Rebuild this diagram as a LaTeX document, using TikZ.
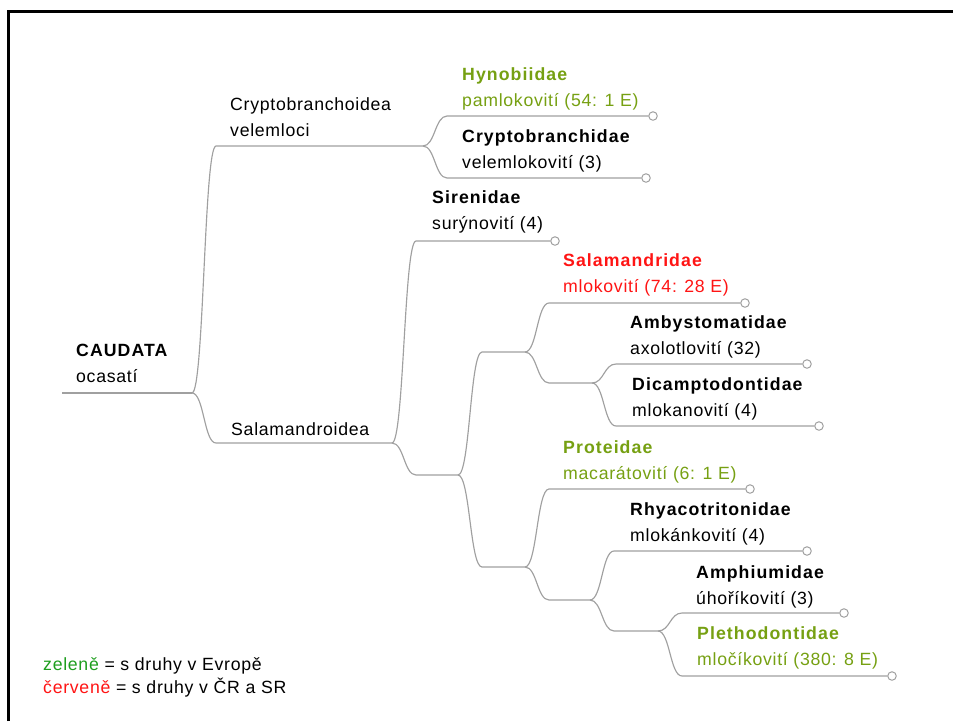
\documentclass[tikz,border=0pt]{standalone}
\usepackage{fontspec}
\setmainfont{Liberation Sans}[LetterSpace=4,BoldFeatures={LetterSpace=6}]
\definecolor{linegray}{RGB}{160,160,160}
\definecolor{leafgreen}{RGB}{118,160,18}
\definecolor{keygreen}{RGB}{30,158,30}
\definecolor{keyred}{RGB}{255,20,20}
\begin{document}
\begin{tikzpicture}[x=1pt,y=-1pt,font=\fontsize{17.7}{26}\selectfont,
  branch/.style={draw=linegray,line width=1.15pt},
  tip/.style={circle,draw=linegray,fill=white,line width=1pt,inner sep=0pt,minimum size=8.5pt},
  lbl/.style={anchor=north west,align=left,inner sep=0pt}]
\useasboundingbox(0,0)rectangle(953,721);
\draw[line width=3.5pt](8.5,721)--(8.5,11.5)--(953,11.5);
% forks
\coordinate(r0)at(62,393);\coordinate(f0)at(192,393);
\coordinate(f1)at(423,146);\coordinate(f2)at(392,443);
\coordinate(f3)at(458,475);\coordinate(f4)at(525,352);
\coordinate(f5)at(592,383);\coordinate(f6)at(525,567);
\coordinate(f7)at(590,600);\coordinate(f8)at(658,631);
% bends
\coordinate(k1)at(216,146);\coordinate(k2)at(216,443);
\coordinate(k3)at(416,475);\coordinate(k4)at(482,352);
\coordinate(k5)at(549,383);\coordinate(k6)at(482,567);
\coordinate(k7)at(549,600);\coordinate(k8)at(614,631);
\coordinate(k-hyno)at(447,116);\coordinate(k-cryptob)at(447,178);
\coordinate(k-siren)at(416,241);\coordinate(k-salam)at(549,303);
\coordinate(k-amby)at(616,364);\coordinate(k-dicamp)at(616,426);
\coordinate(k-prot)at(549,489);\coordinate(k-rhya)at(614,551);
\coordinate(k-amph)at(682,613);\coordinate(k-pleth)at(682,676);
% leaf ends
\node[tip](c-hyno)at(653,116){};\node[tip](c-cryptob)at(646,178){};
\node[tip](c-siren)at(555,241){};\node[tip](c-salam)at(745,303){};
\node[tip](c-amby)at(807,364){};\node[tip](c-dicamp)at(819,426){};
\node[tip](c-prot)at(750,489){};\node[tip](c-rhya)at(807,551){};
\node[tip](c-amph)at(844,613){};\node[tip](c-pleth)at(892,676){};
\draw[branch](r0)--(f0);
\foreach \a/\b/\c in {f0/k1/f1,f0/k2/f2,f1/k-hyno/c-hyno,f1/k-cryptob/c-cryptob,
  f2/k-siren/c-siren,f2/k3/f3,f3/k4/f4,f3/k6/f6,f4/k-salam/c-salam,f4/k5/f5,
  f5/k-amby/c-amby,f5/k-dicamp/c-dicamp,f6/k-prot/c-prot,f6/k7/f7,
  f7/k-rhya/c-rhya,f7/k8/f8,f8/k-amph/c-amph,f8/k-pleth/c-pleth}
  {\draw[branch](\a)..controls+(12,0)and+(-12,0)..(\b)--(\c);}
% labels
\node[lbl](caudata)at(76,344){\textbf{CAUDATA}\\ocasatí};
\node[lbl](cryptoidea)at(230,97){Cryptobranchoidea\\velemloci};
\node[lbl](salamoidea)at(231,422){Salamandroidea};
\node[lbl,text=leafgreen](hyno)at(462,67){\textbf{Hynobiidae}\\pamlokovití (54: 1 E)};
\node[lbl](cryptob)at(462,129){\textbf{Cryptobranchidae}\\velemlokovití (3)};
\node[lbl](siren)at(432,190){\textbf{Sirenidae}\\surýnovití (4)};
\node[lbl,text=keyred](salam)at(563,253){\textbf{Salamandridae}\\mlokovití (74: 28 E)};
\node[lbl](amby)at(630,315){\textbf{Ambystomatidae}\\axolotlovití (32)};
\node[lbl](dicamp)at(632,377.5){\textbf{Dicamptodontidae}\\mlokanovití (4)};
\node[lbl,text=leafgreen](prot)at(563,440){\textbf{Proteidae}\\macarátovití (6: 1 E)};
\node[lbl](rhya)at(630,502){\textbf{Rhyacotritonidae}\\mlokánkovití (4)};
\node[lbl](amph)at(696,565){\textbf{Amphiumidae}\\úhoříkovití (3)};
\node[lbl,text=leafgreen](pleth)at(697,626){\textbf{Plethodontidae}\\mločíkovití (380: 8 E)};
\node[lbl,font=\fontsize{17.7}{23.5}\selectfont](key)at(43,657){{\color{keygreen}zeleně} = s druhy v Evropě\\{\color{keyred}červeně} = s druhy v ČR a SR};
\end{tikzpicture}
\end{document}
